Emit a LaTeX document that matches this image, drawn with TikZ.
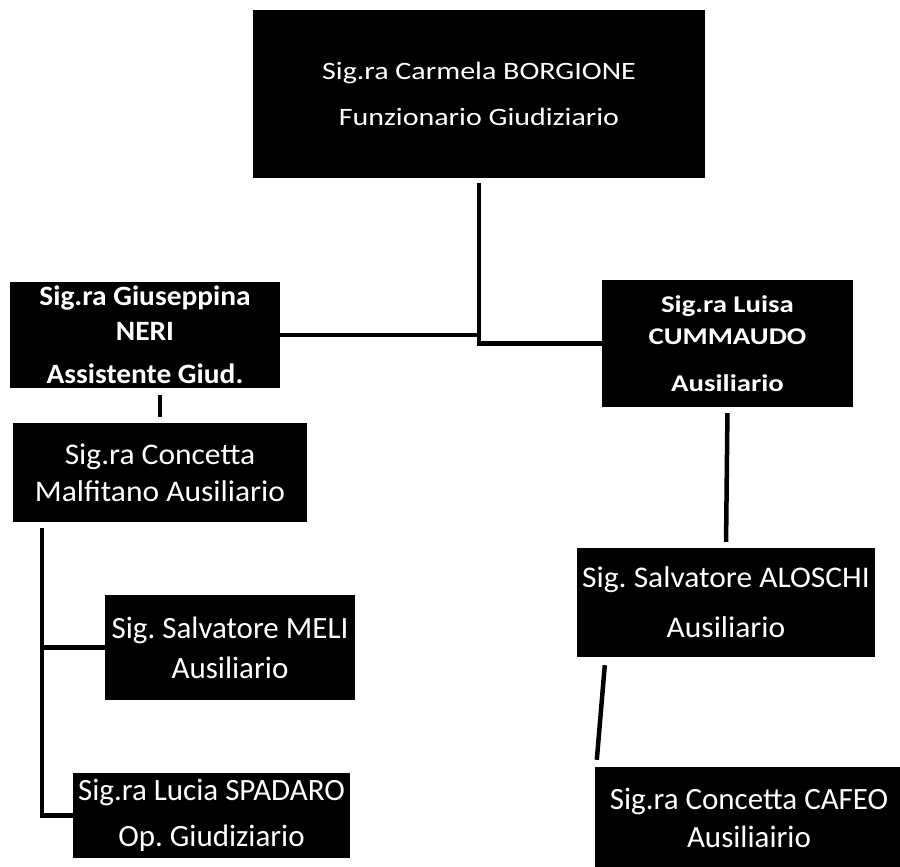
\documentclass[tikz,border=0pt]{standalone}
\usepackage{fontspec}
\setmainfont{Carlito}
\newfontfamily\fwideA{Carlito}[FakeStretch=1.2]
\newfontfamily\fwideB{Carlito}[FakeStretch=1.1]
\newfontfamily\fwideC{Carlito}[FakeStretch=1.05]
\usetikzlibrary{calc}
\frenchspacing
\begin{document}
\begin{tikzpicture}[x=1pt,y=-1pt,
  box/.style={fill=black, text=white, inner sep=0pt, align=center},
  link/.style={line width=4.5pt, draw=black}]
\clip (0,0) rectangle (900,867);

% staff boxes
\node[box, minimum width=452pt, minimum height=168pt,
      font=\fwideA\fontsize{25}{46}\selectfont] (top) at (479,94)
  {Sig.ra Carmela BORGIONE\\Funzionario Giudiziario};
\node[box, minimum width=270pt, minimum height=106pt,
      font=\fwideC\bfseries\fontsize{28}{35}\selectfont] (gius) at (145,335)
  {Sig.ra Giuseppina\\NERI\\[8pt]Assistente Giud.};
\node[box, minimum width=251pt, minimum height=127pt,
      font=\fwideA\bfseries\fontsize{24}{32}\selectfont] (luisa) at (727.5,343.5)
  {Sig.ra Luisa\\CUMMAUDO\\[15pt]Ausiliario};
\node[box, minimum width=294pt, minimum height=99pt,
      font=\fwideC\fontsize{30}{37}\selectfont] (conc) at (160,472.5)
  {Sig.ra Concetta\\Malfitano Ausiliario};
\node[box, minimum width=250pt, minimum height=105pt,
      font=\fontsize{31}{40}\selectfont] (meli) at (230,647.5)
  {Sig. Salvatore MELI\\Ausiliario};
\node[box, minimum width=277pt, minimum height=85pt,
      font=\fontsize{31}{46}\selectfont] (lucia) at (211.5,815.5)
  {Sig.ra Lucia SPADARO\\Op. Giudiziario};
\node[box, minimum width=298pt, minimum height=109pt,
      font=\fwideC\fontsize{30}{50}\selectfont] (alos) at (726,602.5)
  {Sig. Salvatore ALOSCHI\\Ausiliario};
\node[box, minimum width=308pt, minimum height=102pt,
      font=\fontsize{31}{38}\selectfont] (cafeo) at (749,818)
  {Sig.ra Concetta CAFEO\\Ausiliairio};

% connectors
\draw[link] ([yshift=-5pt]top.south) |- (luisa.west);
\draw[link] (gius.east) -- (gius.east -| top.south);
\draw[link, shorten <=7pt, shorten >=6pt] (gius.south -| conc.north) -- (conc.north);
\coordinate (spine) at ($(conc.south west)+(29,6)$);
\draw[link] (spine) |- (lucia.west);
\draw[link] (meli.west) -- (meli.west -| spine);
\draw[link, shorten <=6pt, shorten >=6pt] (luisa.south) -- (alos.north);
\draw[link] ($(alos.south west)+(28,8)$) -- ($(cafeo.north west)+(2,-7)$);
\end{tikzpicture}
\end{document}
